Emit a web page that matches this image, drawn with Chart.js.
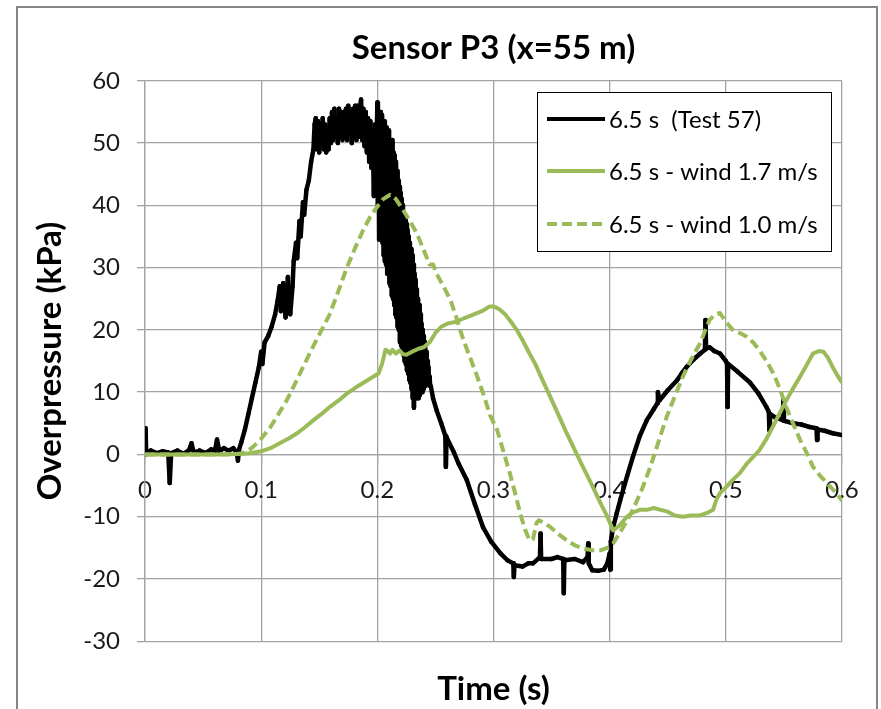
<!DOCTYPE html>
<html>
<head>
<meta charset="utf-8">
<script src="https://cdn.jsdelivr.net/npm/chart.js@4/dist/chart.umd.min.js"></script>
<style>
  html, body { margin: 0; padding: 0; background: #fff; }
  canvas { display: block; }
</style>
</head>
<body>
<canvas id="c" width="881" height="709"></canvas>
<script>
// ---------------- DATA ----------------
const seriesLabels = ['6.5 s  (Test 57)', '6.5 s - wind 1.7 m/s', '6.5 s - wind 1.0 m/s'];

// Test 57 (measured, noisy signal)
const test57T = [
  0.000,0.0005,0.001,0.005,0.010,0.015,0.020,0.0213,0.0225,0.028,0.033,0.038,0.040,0.042,0.047,0.052,0.057,0.060,0.062,0.064,0.068,0.072,0.076,0.079,0.080,0.081,0.083,0.086,0.089,0.092,0.095,0.098,0.100,0.101,0.103,0.106,0.109,0.112,0.114,0.116,0.117,0.119,0.121,0.123,0.125,0.127,0.128,0.130,0.131,0.133,0.134,0.136,0.137,0.139,0.141,0.143,0.145,
  0.146,0.147,0.148,0.149,0.150,0.151,0.152,0.153,0.154,0.155,0.156,0.157,0.158,0.159,0.160,0.161,0.162,0.163,0.164,0.165,0.166,0.167,0.168,0.169,0.170,0.171,0.172,0.173,0.174,0.175,0.176,0.177,0.178,0.179,0.180,0.181,0.182,0.183,0.184,0.185,0.186,0.187,0.188,0.189,0.190,0.191,0.192,0.193,0.194,0.195,0.196,0.197,0.198,0.199,
  0.2000,0.2005,0.2010,0.2015,0.2020,0.2025,0.2030,0.2035,0.2040,0.2045,0.2050,0.2055,0.2060,0.2065,0.2070,0.2075,0.2080,0.2085,0.2090,0.2095,
  0.2100,0.2105,0.2110,0.2115,0.2120,0.2125,0.2130,0.2135,0.2140,0.2145,0.2150,0.2155,0.2160,0.2165,0.2170,0.2175,0.2180,0.2185,0.2190,0.2195,
  0.2200,0.2205,0.2210,0.2215,0.2220,0.2225,0.2230,0.2235,0.2240,0.2245,0.2250,0.2255,0.2260,0.2265,0.2270,0.2275,0.2280,0.2285,0.2290,0.2295,
  0.2300,0.2305,0.2310,0.2315,0.2320,0.2325,0.2330,0.2335,0.2340,0.2345,0.2350,0.2355,0.2360,0.2365,0.2370,0.2375,0.2380,0.2385,0.2390,0.2395,
  0.2400,0.2405,0.2410,0.2415,0.2420,0.2425,0.2430,0.2435,0.2440,0.2445,0.2450,0.2455,0.2460,
  0.248,0.251,0.255,0.2585,0.259,0.2595,0.262,0.266,0.270,0.277,0.284,0.291,0.298,0.306,0.312,0.317,0.3175,0.318,0.325,0.330,0.334,0.340,0.3405,0.341,0.350,0.355,0.360,0.3605,0.361,0.370,0.377,0.381,0.3815,0.382,0.385,0.390,0.395,0.398,0.400,0.4005,0.401,0.403,0.406,0.409,0.415,0.420,0.426,0.432,0.438,0.441,0.4415,0.443,0.450,0.458,0.462,0.466,0.472,0.478,0.482,0.4825,0.483,0.486,0.490,0.495,0.500,0.501,0.5015,0.502,0.510,0.521,0.528,0.535,0.537,0.5375,0.538,0.542,0.549,0.5495,0.550,0.558,0.565,0.572,0.578,0.5785,0.579,0.585,0.592,0.600];
const test57P = [
  0.0,4.2,0.3,0.6,0.2,0.5,0.3,-4.6,0.2,0.6,0.1,0.7,1.8,0.3,0.6,0.2,0.8,0.4,2.4,0.5,1.0,0.6,1.0,0.3,-1.0,0.8,2.0,4.0,6.5,9.0,11.5,14.0,16.5,14.5,18.0,19.0,20.5,22.5,24.5,27.0,23.0,27.5,22.0,28.5,22.5,27.0,31.0,34.0,31.5,37.5,35.0,40.5,38.5,42.5,44.0,47.0,49.0,
  53,54,49,53.5,48.5,53,50,54,49,53,48.5,52,49,54,50,55,50.5,55.5,51,54,50,55.5,51,55,50.5,55,51,55.5,50.5,56,51.5,55,50,55.5,51,56,50.5,56,51,55.5,57,50.5,55.5,49.5,55,48.5,54,47,53.5,46,52,41.5,53,45,
  56.5,40,55,34.5,54,37,55,35,54.5,34,53,32,53.5,31,52,30.5,52.5,29,51,29.5,
  52,27.5,50.5,27,50,25.5,50.5,25,48.5,24,48,22.5,47,22,45.5,20.5,44,20,43,18,
  42,17.5,41,16.5,40,16,38.5,15,38,14.5,37,13.5,36,13,35,12,34,11.5,33,10.5,
  32,9,30.5,7.5,29,9.5,28,9,26.5,9.5,25,9,24,9.5,22.5,10,21,10,20,10.5,
  19,11,18,11,16.5,11.5,15,11.5,14,11.5,12.5,11,11,
  9,7.1,5,3,-2,2.8,1.8,0.3,-1.5,-4.1,-8,-11.7,-14,-15.9,-17,-17.5,-19.7,-17.8,-18,-17.5,-17.5,-16.5,-12.7,-16.8,-16.8,-16.5,-16.8,-22.3,-17,-16.8,-17.3,-16.5,-14.3,-17.5,-18.6,-18.7,-18.5,-17.5,-15.9,-18.5,-14,-11.7,-9.5,-7.4,-3.5,-0.4,3,5.5,7.3,8.2,10,8.7,10.3,11.9,13,14.0,15.2,16.2,16.8,21.6,17,17.2,16.6,16.2,15,14.6,7.6,14.5,13.3,11.5,9.8,7.6,6.8,3.9,6.5,6,5.5,8.7,5.4,5,4.8,4.4,4.2,2.3,4,3.8,3.4,3.1];

// wind 1.7 m/s (solid green)
const wind17T = [0,0.060,0.080,0.090,0.100,0.108,0.116,0.124,0.131,0.138,0.145,0.152,0.159,0.167,0.174,0.181,0.188,0.195,0.201,0.204,0.207,0.209,0.211,0.213,0.216,0.219,0.222,0.225,0.230,0.236,0.240,0.245,0.250,0.255,0.260,0.268,0.275,0.282,0.290,0.296,0.300,0.305,0.310,0.315,0.320,0.326,0.331,0.336,0.342,0.349,0.356,0.363,0.370,0.377,0.385,0.392,0.398,0.403,0.408,0.415,0.420,0.426,0.432,0.438,0.444,0.450,0.456,0.463,0.470,0.478,0.485,0.489,0.492,0.495,0.500,0.506,0.512,0.518,0.524,0.529,0.535,0.542,0.549,0.556,0.564,0.570,0.575,0.580,0.584,0.588,0.592,0.596,0.600];
const wind17P = [0,0,0.05,0.2,0.5,1.0,1.8,2.6,3.4,4.4,5.5,6.5,7.6,8.7,9.8,10.7,11.5,12.3,13.0,14.5,16.8,16.6,16.2,16.8,16.2,16.7,16.1,16.0,16.5,17.0,17.2,18.0,19.5,20.5,21.0,21.3,21.9,22.4,23.0,23.7,23.8,23.3,22.5,21.3,20.0,18.0,16.2,14.5,12.0,9.2,6.3,3.4,0.7,-2,-5,-7.8,-10,-12.2,-11.5,-10,-9.3,-8.9,-8.9,-8.6,-8.9,-9.2,-9.8,-10,-9.8,-9.8,-9.3,-8.9,-7.2,-6.2,-5.3,-4.1,-3,-1.5,-0.3,0.7,2.5,5,7.6,10,12.5,14.5,16.2,16.6,16.5,15.5,14.0,12.7,11.5];

// wind 1.0 m/s (dashed green)
const wind10T = [0,0.070,0.082,0.088,0.093,0.100,0.108,0.115,0.122,0.129,0.136,0.143,0.151,0.159,0.166,0.174,0.181,0.188,0.194,0.200,0.205,0.211,0.216,0.222,0.228,0.234,0.240,0.245,0.248,0.251,0.256,0.263,0.268,0.274,0.280,0.286,0.292,0.297,0.303,0.309,0.314,0.319,0.323,0.327,0.331,0.334,0.337,0.339,0.344,0.349,0.356,0.363,0.370,0.377,0.385,0.392,0.398,0.403,0.409,0.415,0.420,0.428,0.435,0.442,0.449,0.456,0.463,0.470,0.478,0.482,0.486,0.491,0.495,0.500,0.506,0.512,0.518,0.524,0.529,0.535,0.541,0.547,0.552,0.558,0.564,0.570,0.575,0.581,0.587,0.594,0.600];
const wind10P = [0,0,0.1,0.5,1.2,2.5,4.4,6.5,8.7,11.3,14.0,16.7,19.6,22.5,26.0,30.1,33.2,36.1,38.2,39.8,41.0,41.7,41.0,39.3,37.5,35.5,32.8,30.5,30.5,29,27.3,24.8,22,18.4,15.5,12.5,9.3,6.3,4.0,0.2,-3,-6.5,-9.5,-12,-13.8,-13.6,-11,-10.6,-11,-11.7,-12.8,-13.8,-14.6,-15.1,-15.4,-15.4,-15.0,-14.3,-12.5,-10.6,-8.9,-5.5,-2,2,6,9.3,12.5,15.2,17.9,19.8,21.6,22.5,22.7,21.3,20,19.5,18.9,17.9,16.7,15,13,10.3,7.6,4.9,2.3,0.1,-2,-3.4,-4.6,-6,-7.4];

// axis ranges
const yMin = -30, yMax = 60, yStep = 10;
const xMin = 0, xMax = 0.6, xStep = 0.1;

// ---------------- CHART ----------------
const FONT = 'Lato';
const GRID = '#a3a3a3';
const GREEN = '#9bbb59';

const toXY = (t, p) => t.map((v, i) => ({ x: v, y: p[i] }));

const pagePlugin = {
  id: 'page',
  beforeDraw(chart) {
    const ctx = chart.ctx;
    ctx.save();
    ctx.fillStyle = '#fff';
    ctx.fillRect(0, 0, chart.width, chart.height);
    ctx.strokeStyle = '#868686';
    ctx.lineWidth = 2;
    ctx.strokeRect(17, 7, 860, 720);
    ctx.restore();
  }
};

const legendBoxPlugin = {
  id: 'legendBox',
  afterDraw(chart) {
    const ctx = chart.ctx;
    const bx = 537, by = 92, bw = 294, bh = 159;
    ctx.save();
    ctx.fillStyle = '#fff';
    ctx.fillRect(bx, by, bw, bh);
    ctx.strokeStyle = '#000';
    ctx.lineWidth = 1;
    ctx.strokeRect(bx + 0.5, by + 0.5, bw, bh);
    const rows = [119, 171, 224];
    chart.data.datasets.forEach((ds, i) => {
      const y = rows[i];
      ctx.beginPath();
      ctx.strokeStyle = ds.borderColor;
      ctx.lineWidth = 4;
      ctx.lineCap = 'butt';
      ctx.setLineDash(ds.borderDash || []);
      ctx.moveTo(547, y);
      ctx.lineTo(605, y);
      ctx.stroke();
      ctx.setLineDash([]);
      ctx.fillStyle = '#000';
      ctx.font = '24px ' + FONT;
      ctx.textBaseline = 'middle';
      ctx.textAlign = 'left';
      ctx.fillText(ds.label, 609, y + 1);
    });
    ctx.restore();
  }
};

new Chart(document.getElementById('c'), {
  type: 'line',
  data: {
    datasets: [
      {
        label: seriesLabels[0], data: toXY(test57T, test57P), borderColor: '#000', borderWidth: 4.5,
        borderCapStyle: 'round', order: 3,
        // stroke each segment on its own so the dense noisy band renders solid
        segment: { borderColor: c => (c.p0DataIndex % 2 ? '#000000' : '#010101') }
      },
      { label: seriesLabels[1], data: toXY(wind17T, wind17P), borderColor: GREEN, borderWidth: 4, order: 2 },
      { label: seriesLabels[2], data: toXY(wind10T, wind10P), borderColor: GREEN, borderWidth: 4, borderDash: [10, 5], order: 1 }
    ]
  },
  options: {
    responsive: false,
    animation: false,
    parsing: false,
    normalized: true,
    elements: {
      point: { radius: 0, hoverRadius: 0 },
      line: { tension: 0, borderJoinStyle: 'round', fill: false }
    },
    layout: { padding: { left: 25, right: 39, top: 0, bottom: 0 } },
    plugins: {
      legend: { display: false },
      tooltip: { enabled: false },
      title: {
        display: true, text: 'Sensor P3 (x=55 m)', fullSize: false, color: '#000',
        font: { family: FONT, size: 33, weight: 'bold' },
        padding: { top: 28.2, bottom: 13 }
      },
      subtitle: {
        display: true, text: 'Time (s)', position: 'bottom', fullSize: false, color: '#000',
        font: { family: FONT, size: 33, weight: 'bold' },
        padding: { top: 28.2, bottom: 0 }
      }
    },
    scales: {
      x: {
        type: 'linear', min: xMin, max: xMax,
        position: { y: 0 },
        grid: { color: GRID, lineWidth: 1.3, tickLength: 8 },
        border: { color: GRID, width: 1.3 },
        ticks: {
          stepSize: xStep, padding: 13.3, color: '#1a1a1a', maxRotation: 0,
          font: { family: FONT, size: 24 },
          callback: v => (Math.abs(v) < 1e-9 ? '0' : (+v).toFixed(1))
        }
      },
      y: {
        type: 'linear', min: yMin, max: yMax,
        grid: { color: GRID, lineWidth: 1.3, tickLength: 8 },
        border: { color: GRID, width: 1.3 },
        ticks: { stepSize: yStep, padding: 17, color: '#1a1a1a', font: { family: FONT, size: 24 } },
        title: {
          display: true, text: 'Overpressure (kPa)', color: '#000',
          font: { family: FONT, size: 33, weight: 'bold' },
          padding: { top: 6, bottom: 0 }
        },
        afterFit(s) { s.width = 120; }
      }
    }
  },
  plugins: [pagePlugin, legendBoxPlugin]
});
</script>
</body>
</html>
